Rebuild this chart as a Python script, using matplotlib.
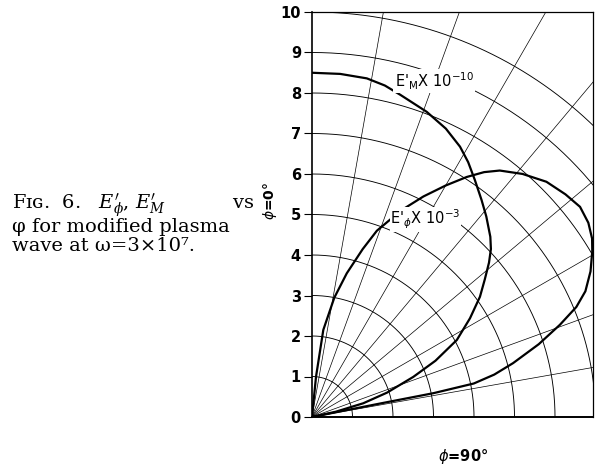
import numpy as np
import matplotlib.pyplot as plt

# E_phi' x 10^-3 : angle from the vertical (deg) and radius
phi_e = [4, 5.7, 7.4, 10.6, 13.6, 16.8, 19.2, 23.3, 26.8, 30.0, 32.8, 35.1, 37.3,
         40.9, 44.9, 48.7, 51.9, 54.9, 57.5, 59.4, 62.4, 65.3, 67.4, 69.6, 72.2,
         75.0, 76.9, 78.3, 78.9, 78.8, 78.8, 79.0]
r_e = [0, 1.0, 2.17, 3.0, 3.65, 4.33, 4.87, 5.55, 6.1, 6.6, 7.05, 7.39, 7.65,
       7.94, 8.2, 8.33, 8.41, 8.34, 8.2, 8.04, 7.76, 7.43, 7.07, 6.53, 5.88,
       5.14, 4.62, 4.08, 3.06, 1.73, 0.82, 0]

# E_M' x 10^-10
phi_m = [0, 4.7, 9.2, 12.4, 15.3, 20.6, 24.9, 28.7, 31.5, 34.5, 38, 41, 44.7,
         46.8, 48.9, 51.5, 54.4, 58, 62, 65.5, 68.4, 72, 75, 77.5, 79]
r_m = [8.5, 8.5, 8.47, 8.38, 8.25, 8.05, 7.85, 7.61, 7.38, 7.1, 6.8, 6.56, 6.26,
       6.06, 5.8, 5.45, 5.1, 4.6, 4.05, 3.35, 2.69, 1.95, 1.31, 0.6, 0]

rings = range(1, 11)
spokes = range(10, 90, 10)
yticks = list(range(0, 11))

W, H = 596, 468
fig = plt.figure(figsize=(W / 100, H / 100), dpi=100)
ax = fig.add_axes([312 / W, 51 / H, 281 / W, 405 / H])
ax.set_xlim(0, 281 / 40.5)
ax.set_ylim(0, 10)

# polar paper
t = np.radians(np.linspace(0, 90, 300))
for r in rings:
    ax.plot(r * np.sin(t), r * np.cos(t), color='k', lw=0.65, zorder=1)
for a in spokes:
    a = np.radians(a)
    ax.plot([0, 15 * np.sin(a)], [0, 15 * np.cos(a)], color='k', lw=0.5, zorder=1)

# curves
pe = np.radians(phi_e)
ax.plot(np.array(r_e) * np.sin(pe), np.array(r_e) * np.cos(pe), color='k', lw=1.6,
        zorder=3, solid_joinstyle='round')
pm = np.radians(phi_m)
ax.plot(np.array(r_m) * np.sin(pm), np.array(r_m) * np.cos(pm), color='k', lw=1.6,
        zorder=3, solid_joinstyle='round')

ax.text(3.02, 8.3, r"E$'_{\mathrm{M}}$X 10$^{-10}$", fontsize=10.5,
        ha='center', va='center', zorder=4,
        bbox=dict(facecolor='white', edgecolor='none', pad=1))
ax.text(2.8, 4.88, r"E$'_{\phi}$X 10$^{-3}$", fontsize=10.5,
        ha='center', va='center', zorder=4,
        bbox=dict(facecolor='white', edgecolor='none', pad=0.5))

ax.set_xticks([])
ax.set_yticks(yticks)
ax.set_yticklabels([str(v) for v in yticks], fontweight='bold', fontsize=10.5)
ax.tick_params(axis='y', direction='out', length=6, width=0.8, pad=2)
for s in ax.spines.values():
    s.set_linewidth(0.9)
ax.spines['bottom'].set_linewidth(1.4)
ax.spines['left'].set_linewidth(1.2)

# labels outside
fig.text(270 / W, 1 - 201 / H, r"$\phi$=0°", rotation=90, ha='center', va='center',
         fontsize=10, fontweight='bold')
fig.text(463 / W, 1 - 456 / H, r"$\phi$=90°", ha='center', va='center',
         fontsize=10.5, fontweight='bold')

# caption
cap = dict(fontsize=14, family=['DejaVu Serif', 'DejaVu Sans'],
           math_fontfamily='dejavuserif', ha='left', va='baseline')
fig.text(12 / W, 1 - 209 / H,
         "F\u026a\u0262.  6.   $E_\\phi'$, $E_M'$           vs", **cap)
# va='baseline' pins the last line here
fig.text(12 / W, 1 - 251 / H,
         "\u03c6 for modified plasma\nwave at \u03c9=3×10\u2077.",
         linespacing=1.1, **cap)

fig.savefig('out.png', dpi=100)
